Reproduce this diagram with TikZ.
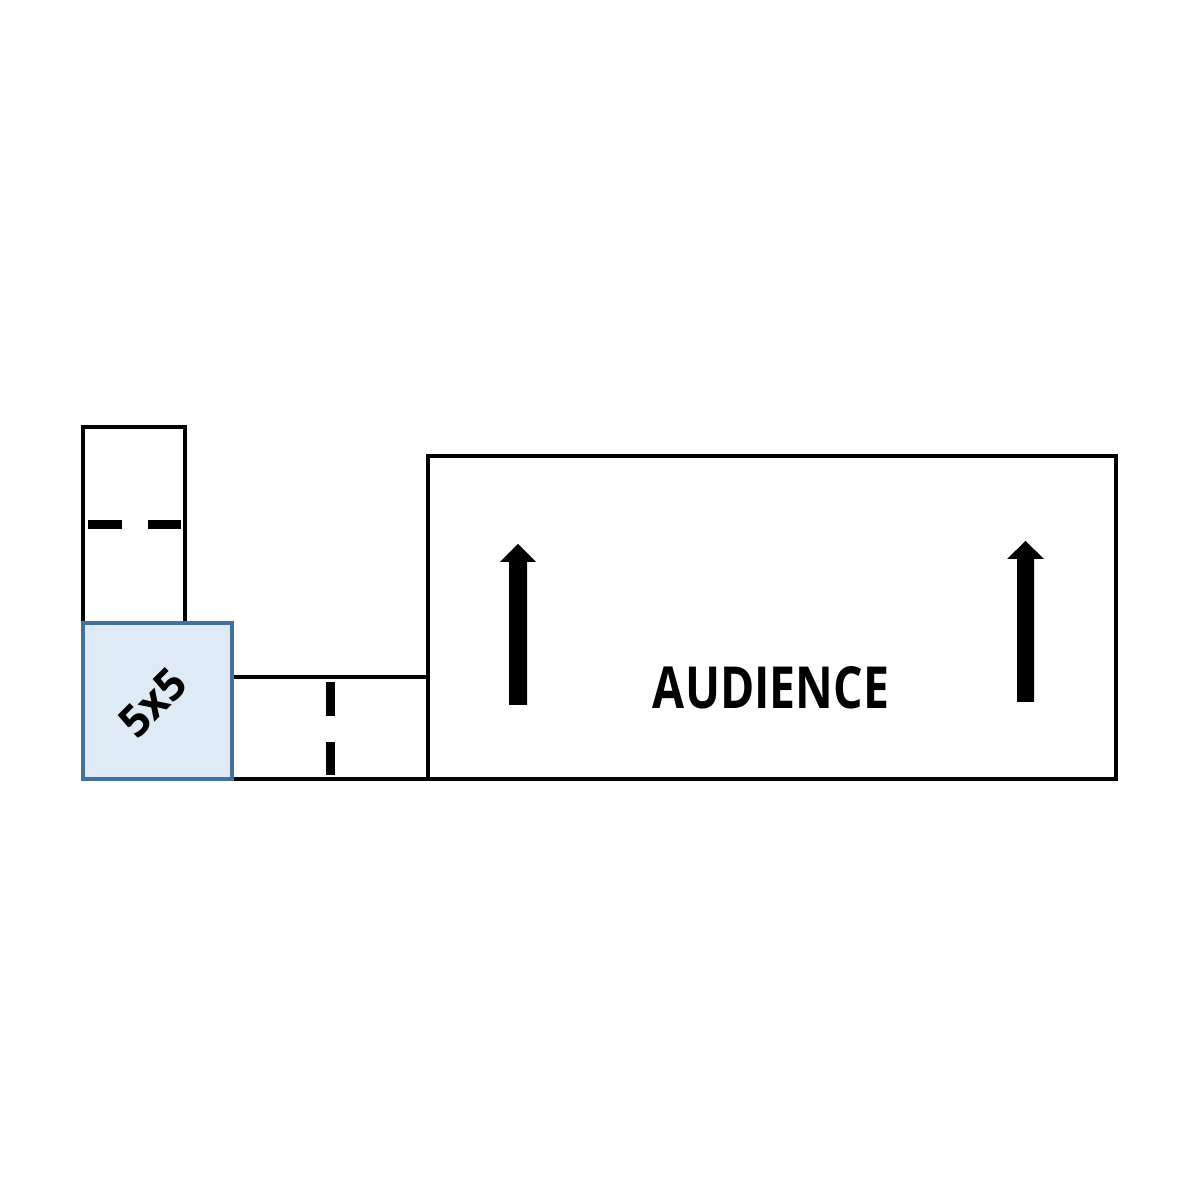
\documentclass[tikz,border=0pt]{standalone}
\usepackage{fontspec}
\setmainfont{Open Sans}
\definecolor{padfill}{RGB}{222,235,247}
\definecolor{padline}{RGB}{65,113,156}
\tikzset{
  wall/.style={line width=0.9pt,draw=black},
  mark5/.style={line width=0.09cm,line cap=butt},
  upshape/.style={fill=black,draw=none}
}
\begin{document}
\begin{tikzpicture}[line join=miter,x=1.0cm,y=1.0cm]
\useasboundingbox (0,0) rectangle (12,12);

\draw [wall] (0.83,5.77) rectangle (1.85,7.73);
\draw [wall] (2.32,4.21) rectangle (4.28,5.23);
\draw [wall] (4.28,4.21) rectangle (11.16,7.44);
\draw [line width=1pt,draw=padline,fill=padfill] (0.83,4.21) rectangle (2.32,5.77);

\draw [mark5] (0.88,6.75) -- (1.22,6.75);
\draw [mark5] (1.48,6.75) -- (1.81,6.75);
\draw [mark5] (3.30,5.18) -- (3.30,4.84);
\draw [mark5] (3.30,4.58) -- (3.30,4.25);

\fill [upshape] (5.09,4.95)--(5.27,4.95)--(5.27,6.38)--(5.36,6.38)--(5.18,6.56)--(5.00,6.38)--(5.09,6.38)--cycle;
\fill [upshape] (10.17,4.98)--(10.34,4.98)--(10.34,6.41)--(10.44,6.41)--(10.255,6.59)--(10.07,6.41)--(10.17,6.41)--cycle;

\node (aud) [anchor=base,inner sep=0pt] at (7.71,4.91) {\resizebox{2.36cm}{0.42cm}{\bfseries AUDIENCE}};
\node (pad) [rotate=45,inner sep=0pt] at (1.53,4.97) {\fontsize{12.5}{14}\selectfont\bfseries 5x5};
\end{tikzpicture}
\end{document}
